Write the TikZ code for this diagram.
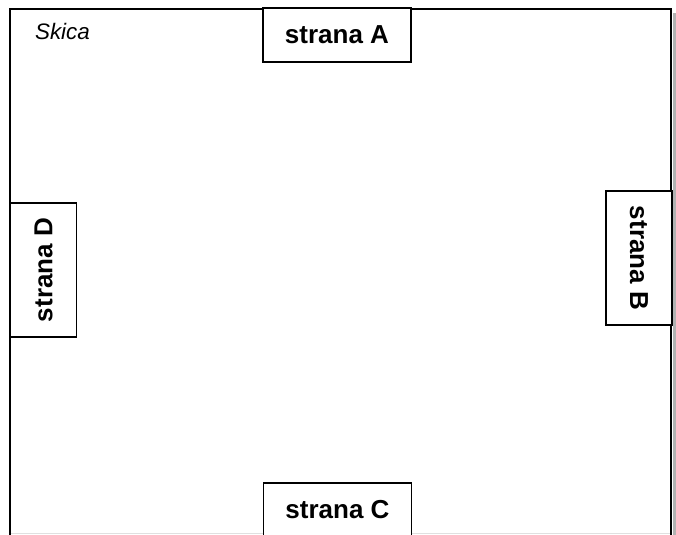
\documentclass[tikz,border=0pt]{standalone}
\usepackage{fontspec}
\setmainfont{Liberation Sans}
\usepackage{tikz}
\tikzset{mybox/.style={
  shape=rectangle,
  draw=black,
  fill=white,
  line width=0.8pt,
  inner sep=0pt,
  font=\fontsize{13}{15}\selectfont\bfseries,
  },
  mybox2/.style={
  mybox,
  minimum width=74pt,
  minimum height=27pt,
  },
  mybox3/.style={
  mybox,
  minimum width=67pt,
  minimum height=33pt,
  }
  }

\begin{document}
\begin{tikzpicture}[x=0.5pt,y=-0.5pt]
      \useasboundingbox (0,0) rectangle (676,535);
      % frame
      \fill[gray!60] (673,13) rectangle (676,535);
      \draw[black!12] (10,533) -- (671,533);
      \coordinate (fbl) at (10,536);
      \coordinate (ftl) at (10,9);
      \coordinate (ftr) at (671,9);
      \coordinate (fbr) at (671,536);
      \draw[line width=1.1pt] (fbl) -- (ftl) -- (ftr) -- (fbr);

      \node[anchor=west, font=\fontsize{11.2}{13}\selectfont\itshape] (skica) at (28,31) {Skica};
      \node[mybox2] (a) at (337,35) {strana A};
      \node[mybox2] (c) at (337.5,510) {strana C};
      \node[mybox3, rotate=-90] (b) at (639,258) {strana B};
      \node[mybox3, rotate=90] (d) at (43.5,270) {strana D};
\end{tikzpicture}
\end{document}
